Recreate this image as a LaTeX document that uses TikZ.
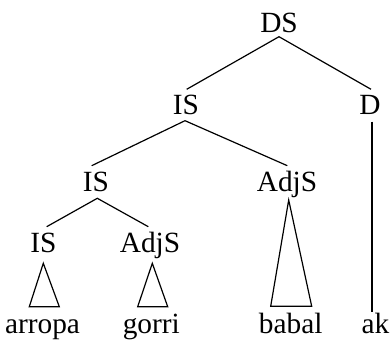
\documentclass[tikz,border=0pt]{standalone}
\usepackage{fontspec}
\setmainfont{Liberation Serif}
\begin{document}
\begin{tikzpicture}[x=0.75pt,y=-0.75pt,
  lbl/.style={anchor=base,inner sep=0pt,font=\fontsize{22}{26}\selectfont},
  edge/.style={draw=black,line width=0.9pt}]
\useasboundingbox (0,0) rectangle (390,341);
% labels
\node[lbl] (DS) at (279,32.3) {DS};
\node[lbl] (IS2) at (186,115) {IS};
\node[lbl] (D) at (370,115) {D};
\node[lbl] (IS3) at (96,191.7) {IS};
\node[lbl] (AdjS3) at (287,191.7) {AdjS};
\node[lbl] (IS4) at (43.3,252.3) {IS};
\node[lbl] (AdjS4) at (150,252.3) {AdjS};
\node[lbl] (arropa) at (42.5,333.3) {arropa};
\node[lbl] (gorri) at (151.3,333.3) {gorri};
\node[lbl] (babal) at (290.7,333.3) {babal};
\node[lbl] (ak) at (375.5,333.3) {ak};
% attachment points
\coordinate (DSb) at (279,36.7);
\coordinate (IS2t) at (186.7,89.3);
\coordinate (Dt) at (371,89.3);
\coordinate (IS2b) at (185,120.7);
\coordinate (IS3t) at (91.7,165.7);
\coordinate (AdjS3t) at (287.3,165.7);
\coordinate (IS3b) at (97.3,198.3);
\coordinate (IS4t) at (46.7,226.7);
\coordinate (AdjS4t) at (148.3,226.7);
\coordinate (Db) at (372,121.7);
\coordinate (akt) at (372,312);
\coordinate (IS4b) at (43.3,263.3);
\coordinate (arL) at (29.3,306.7);
\coordinate (arR) at (59.3,306.7);
\coordinate (AdjS4b) at (152.3,263.3);
\coordinate (goL) at (137.7,306.7);
\coordinate (goR) at (167.7,306.7);
\coordinate (AdjS3b) at (288.7,200);
\coordinate (baL) at (270.7,306.3);
\coordinate (baR) at (311.7,306.3);
% edges
\draw[edge] (IS2t) -- (DSb) -- (Dt);
\draw[edge] (IS3t) -- (IS2b) -- (AdjS3t);
\draw[edge] (IS4t) -- (IS3b) -- (AdjS4t);
\draw[edge] (Db) -- (akt);
\draw[edge] (IS4b) -- (arL) -- (arR) -- cycle;
\draw[edge] (AdjS4b) -- (goL) -- (goR) -- cycle;
\draw[edge] (AdjS3b) -- (baL) -- (baR) -- cycle;
\end{tikzpicture}
\end{document}
